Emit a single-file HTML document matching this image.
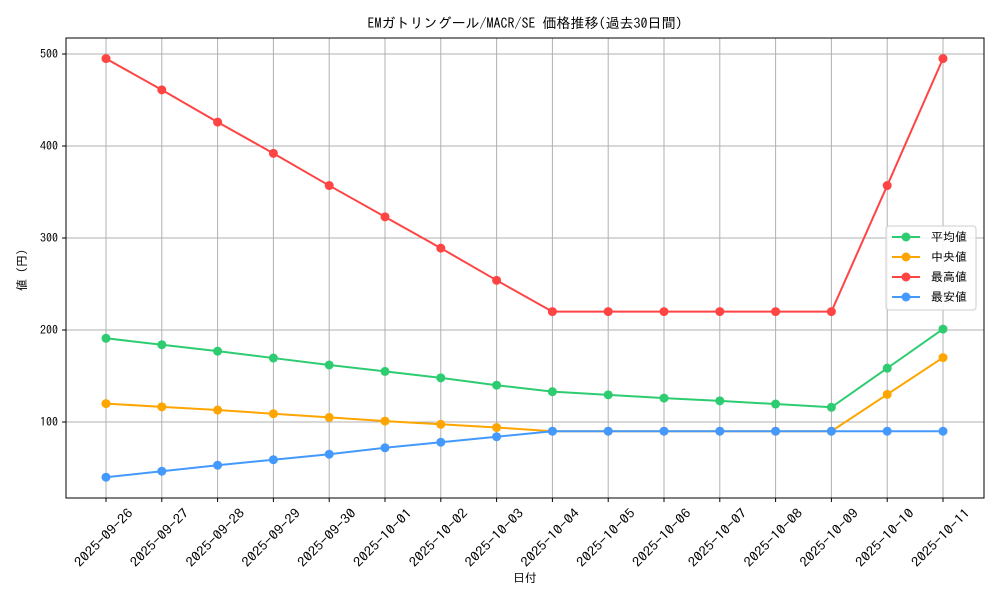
<!DOCTYPE html>
<html><head><meta charset="utf-8"><style>
body{margin:0;background:#fff;}
text{font-family:"IPAGothic","Liberation Sans",sans-serif;fill:#000;}
</style></head><body>
<svg id="chart" width="1000" height="600"></svg>
<script>
const categories=["2025-09-26","2025-09-27","2025-09-28","2025-09-29","2025-09-30","2025-10-01","2025-10-02","2025-10-03","2025-10-04","2025-10-05","2025-10-06","2025-10-07","2025-10-08","2025-10-09","2025-10-10","2025-10-11"];
const meanValues=[191,184,177,169.5,162,155,148,140,133,129.5,126,123,119.5,116,158.5,201];
const medianValues=[120,116.5,113,109,105,101,97.5,94,90,90,90,90,90,90,130,170];
const maxValues=[495,461,426,392,357,323,289,254,220,220,220,220,220,220,357,495];
const minValues=[40,46.5,53,59,65,72,78,84,90,90,90,90,90,90,90,90];
const yTicks=[100,200,300,400,500];
const seriesNames=["平均値","中央値","最高値","最安値"];
const colors=["#2ecc71","#ffa500","#ff4444","#4499ff"];
const NS="http://www.w3.org/2000/svg";
const svg=document.getElementById('chart');
const L=66,R=984,T=38,B=498;
const xs=i=>106+i*(943-106)/(categories.length-1);
const ys=v=>514-v*0.92;
function el(t,a,txt){const e=document.createElementNS(NS,t);for(const k in a)e.setAttribute(k,a[k]);if(txt!=null)e.textContent=txt;svg.appendChild(e);return e;}
categories.forEach((c,i)=>{
 const g=el('line',{x1:xs(i),x2:xs(i),y1:T,y2:B,stroke:'#b0b0b0','stroke-width':1});
 
 
 const tk=el('line',{x1:xs(i),x2:xs(i),y1:B,y2:B+4,stroke:'#000'});
 
 
 const cx=xs(i)-2,cy=542;
 const t=el('text',{x:cx,y:cy,'font-size':13,'text-anchor':'middle',textLength:76,lengthAdjust:'spacingAndGlyphs',transform:`rotate(-45 ${cx} ${cy-4})`},c);
 
 
});
yTicks.forEach(v=>{
 const g=el('line',{x1:L,x2:R,y1:ys(v),y2:ys(v),stroke:'#b0b0b0','stroke-width':1});
 
 
 const tk=el('line',{x1:L-4,x2:L,y1:ys(v),y2:ys(v),stroke:'#000'});
 
 
 const t=el('text',{x:L-8,y:ys(v)+4,'font-size':12,'text-anchor':'end'},v);
 
 
});
const frame=el('rect',{x:L,y:T,width:R-L,height:B-T,fill:'none',stroke:'#000','stroke-width':1});


const allSeries=[meanValues,medianValues,maxValues,minValues];
const keys=['mean','median','max','min'];
allSeries.forEach((s,k)=>{
 const p=el('polyline',{points:s.map((v,i)=>xs(i)+','+ys(v)).join(' '),fill:'none',stroke:colors[k],'stroke-width':2});
 
 
 s.forEach((v,i)=>{
  const c=el('circle',{cx:xs(i),cy:ys(v),r:4.5,fill:colors[k]});
  
  
 });
});
const title=el('text',{x:525,y:28,'font-size':14,'text-anchor':'middle'},'EMガトリングール/MACR/SE 価格推移(過去30日間)');


const xl=el('text',{x:525,y:582,'font-size':12,'text-anchor':'middle'},'日付');


const yl=el('text',{x:26,y:270,'font-size':12,'text-anchor':'middle',transform:'rotate(-90 26 270)'},'値 (円)');


const lg=el('rect',{x:886,y:226,width:90,height:84,fill:'#fff','fill-opacity':0.85,stroke:'#ccc',rx:3});


seriesNames.forEach((n,k)=>{
 const y=237+k*20;
 const l=el('line',{x1:892,x2:920,y1:y,y2:y,stroke:colors[k],'stroke-width':2});
 
 
 const c=el('circle',{cx:906,cy:y,r:4.5,fill:colors[k]});
 
 
 const t=el('text',{x:931,y:y+4,'font-size':12},n);
 
 
});
</script>
</body></html>
